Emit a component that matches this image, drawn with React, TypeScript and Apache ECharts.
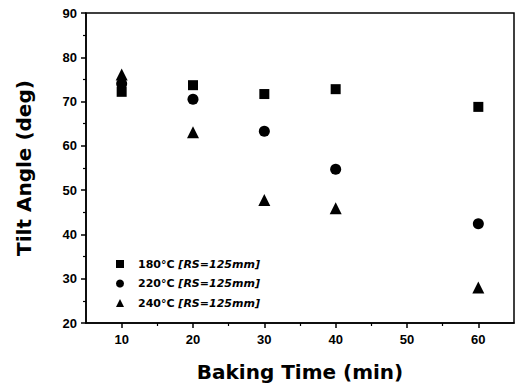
import React, { useEffect, useRef } from "react";
import * as echarts from "echarts";

const bakingTimes = [10, 20, 30, 40, 60];
const tilt180 = [72.2, 73.7, 71.7, 72.8, 68.8];
const tilt220 = [74.0, 70.5, 63.3, 54.7, 42.4];
const tilt240 = [76.1, 63.1, 47.8, 45.9, 28.0];
const seriesNames = ["180°C [RS=125mm]", "220°C [RS=125mm]", "240°C [RS=125mm]"];
const seriesSymbols = ["rect", "circle", "triangle"];
const xMajorTicks = [10, 20, 30, 40, 50, 60];
const xMinorTicks = [15, 25, 35, 45, 55];

const FONT = "'Liberation Sans', Arial, sans-serif";
const WIDE = "'DejaVu Sans', Arial, sans-serif";

export default function App() {
  const ref = useRef<HTMLDivElement>(null);
  useEffect(() => {
    if (!ref.current) return;
    const chart = echarts.init(ref.current, null, { renderer: "svg" });
    const allValues = [tilt180, tilt220, tilt240];
    const sizes = [10, 11, 12];
    const series = allValues.map((vals, i) => ({
      name: seriesNames[i],
      type: "scatter",
      symbol: seriesSymbols[i],
      symbolSize: sizes[i],
      itemStyle: { color: "#000", opacity: 1 },
      data: bakingTimes.map((t, j) => [t, vals[j]]),
      z: 3 - i,
    }));
    chart.setOption({
      animation: false,
      backgroundColor: "#fff",
      grid: {
        left: 86,
        right: 4,
        top: 13,
        bottom: 63,
        show: true,
        borderColor: "#000",
        borderWidth: 1.5,
        backgroundColor: "transparent",
      },
      legend: {
        orient: "vertical",
        left: 111,
        top: 252,
        itemWidth: 8,
        itemHeight: 8,
        itemGap: 5.5,
        data: seriesNames.map((n, i) => ({ name: n, icon: seriesSymbols[i], itemStyle: { color: "#000", opacity: 1 } })),
        formatter: (name: string) => {
          const idx = name.indexOf(" ");
          return `{a|${name.slice(0, idx)}} {b|${name.slice(idx + 1)}}`;
        },
        textStyle: {
          fontFamily: WIDE,
          fontSize: 11,
          fontWeight: "bold",
          color: "#000",
          lineHeight: 14,
          rich: {
            a: { fontFamily: WIDE, fontSize: 11, fontWeight: "bold", color: "#000", padding: [0, 0, 0, 9] },
            b: { fontFamily: WIDE, fontSize: 11, fontWeight: "bold", fontStyle: "italic", color: "#000" },
          },
        },
      },
      xAxis: [
        {
          type: "value",
          min: 5,
          max: 65,
          position: "bottom",
          name: "Baking Time (min)",
          nameLocation: "middle",
          nameGap: 39,
          nameTextStyle: { fontFamily: WIDE, fontSize: 20, fontWeight: "bold", color: "#000" },
          axisLine: { show: true, lineStyle: { color: "#000", width: 1.5 } },
          axisTick: { show: true, customValues: xMajorTicks, length: 5, lineStyle: { color: "#000", width: 1.5 } },
          axisLabel: {
            customValues: xMajorTicks,
            fontFamily: FONT,
            fontSize: 13,
            fontWeight: "bold",
            color: "#000",
            margin: 10,
          },
          splitLine: { show: false },
        },
        {
          type: "value",
          min: 5,
          max: 65,
          position: "bottom",
          axisLine: { show: false },
          axisTick: { show: true, customValues: xMinorTicks, length: 3, lineStyle: { color: "#000", width: 1.2 } },
          axisLabel: { show: false },
          splitLine: { show: false },
        },
      ],
      yAxis: {
        type: "value",
        min: 20,
        max: 90,
        interval: 10,
        name: "Tilt Angle (deg)",
        nameLocation: "middle",
        nameGap: 52,
        nameTextStyle: { fontFamily: WIDE, fontSize: 20, fontWeight: "bold", color: "#000" },
        axisLine: { show: true, lineStyle: { color: "#000", width: 1.5 } },
        axisTick: { show: true, length: 5, lineStyle: { color: "#000", width: 1.5 } },
        minorTick: { show: true, splitNumber: 2, length: 3, lineStyle: { color: "#000", width: 1.2 } },
        axisLabel: { fontFamily: FONT, fontSize: 13, fontWeight: "bold", color: "#000", margin: 9 },
        splitLine: { show: false },
      },
      series,
    });
    return () => chart.dispose();
  }, []);
  return <div ref={ref} style={{ width: 518, height: 387, position: "absolute", left: 0, top: 0 }} />;
}
